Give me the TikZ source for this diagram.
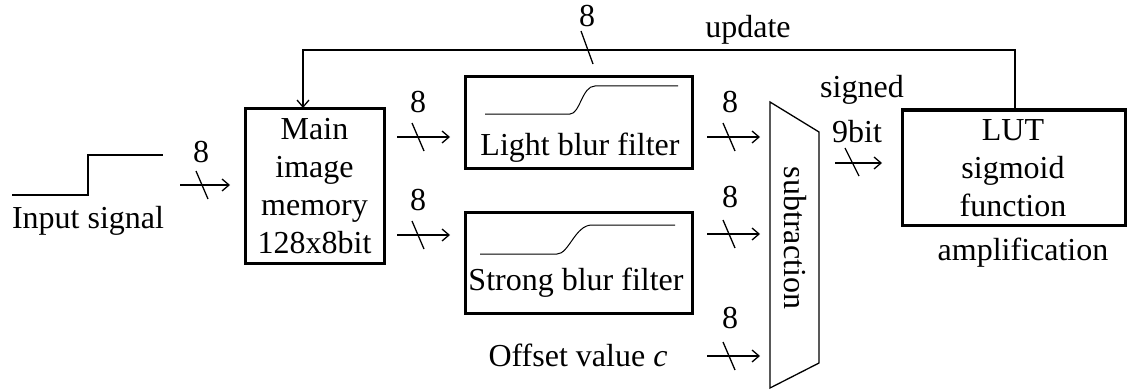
\documentclass[tikz,border=0pt]{standalone}
\usepackage{fontspec}
\setmainfont{Liberation Serif}
\usetikzlibrary{arrows.meta,calc}
\begin{document}
\begin{tikzpicture}[x=0.5pt,y=-0.5pt,
  txt/.style={font=\fontsize{16}{19}\selectfont, inner sep=0pt, align=center},
  blk/.style={draw, line width=1.5pt, inner sep=0pt},
  thin/.style={line width=0.65pt},
  arr/.style={thin, -{Straight Barb[length=3.5pt,width=6pt]}},
  curve/.style={line width=0.5pt}]
\useasboundingbox (0,0) rectangle (1128,390);

% blocks
\node[blk, minimum width=69.5pt, minimum height=77pt] (main) at (314.5,186) {};
\node[txt] (maintxt) at (314.5,186) {Main\\image\\memory\\128x8bit};
\node[blk, minimum width=113.5pt, minimum height=45.5pt] (light) at (578.5,122.5) {};
\node[txt] (lighttxt) at (580,148) {Light blur filter};
\node[blk, minimum width=113.5pt, minimum height=50.5pt] (strong) at (578.5,262.5) {};
\node[txt] (strongtxt) at (576,283) {Strong blur filter};
\node[blk, minimum width=111.5pt, minimum height=57.5pt] (lut) at (1014,167.5) {};
\node[txt] (luttxt) at (1013,168) {LUT\\sigmoid\\function};
\node[txt] (amp) at (1023,253) {amplification};

% subtraction trapezoid
\coordinate (s1) at (770,102);
\coordinate (s2) at (819,132);
\coordinate (s3) at (819,363);
\coordinate (s4) at (770,388);
\draw[thin, line join=miter] (s1) -- (s2) -- (s3) -- (s4) -- cycle;
\node[txt, rotate=-90] (sub) at (795,238) {subtraction};

% input signal
\draw[line width=1pt] (12,195) -- (88,195) -- (88,155) -- (163,155);
\node[txt] (insig) at (88,221) {Input signal};

% sigmoid sketches
\draw[curve] (485,114) -- (570,114) .. controls (580,114) and (582,86) .. (595,86) -- (678,86);
\draw[curve] (480,254) -- (557,254) .. controls (569,254) and (575,225) .. (592,225) -- (675,225);

% buses
\coordinate (a1s) at (180,185); \coordinate (a1e) at (230,185);
\draw[arr] (a1s) -- (a1e);
\draw[thin] (196,171) -- (208,199);
\node[txt] (l1) at (201,152) {8};

\coordinate (a2s) at (397,137); \coordinate (a2e) at (450,137);
\draw[arr] (a2s) -- (a2e);
\draw[thin] (412,123) -- (424,151);
\node[txt] (l2) at (418,102) {8};

\coordinate (a3s) at (397,235); \coordinate (a3e) at (450,235);
\draw[arr] (a3s) -- (a3e);
\draw[thin] (412,221) -- (424,249);
\node[txt] (l3) at (418,200) {8};

\coordinate (a4s) at (707,137); \coordinate (a4e) at (760,137);
\draw[arr] (a4s) -- (a4e);
\draw[thin] (723,123) -- (735,151);
\node[txt] (l4) at (730,102) {8};

\coordinate (a5s) at (707,234); \coordinate (a5e) at (760,234);
\draw[arr] (a5s) -- (a5e);
\draw[thin] (723,220) -- (735,248);
\node[txt] (l5) at (730,197) {8};

\coordinate (a6s) at (707,356); \coordinate (a6e) at (760,356);
\draw[arr] (a6s) -- (a6e);
\draw[thin] (723,342) -- (735,370);
\node[txt] (l6) at (730,318) {8};
\node[txt] (off) at (578,355) {Offset value \textit{c}};

\coordinate (a7s) at (835,163); \coordinate (a7e) at (882,163);
\draw[arr] (a7s) -- (a7e);
\draw[thin] (845,148) -- (859,176);
\node[txt] (l7a) at (862,90) {signed};
\node[txt] (l7b) at (857,132) {9bit};

% feedback
\draw[arr] (1015,0 |- lut.north) |- (303,50) -- (303,108);
\draw[thin] (581,31) -- (593,64);
\node[txt] (l8) at (587,16) {8};
\node[txt] (upd) at (748,30) {update};
\end{tikzpicture}
\end{document}
